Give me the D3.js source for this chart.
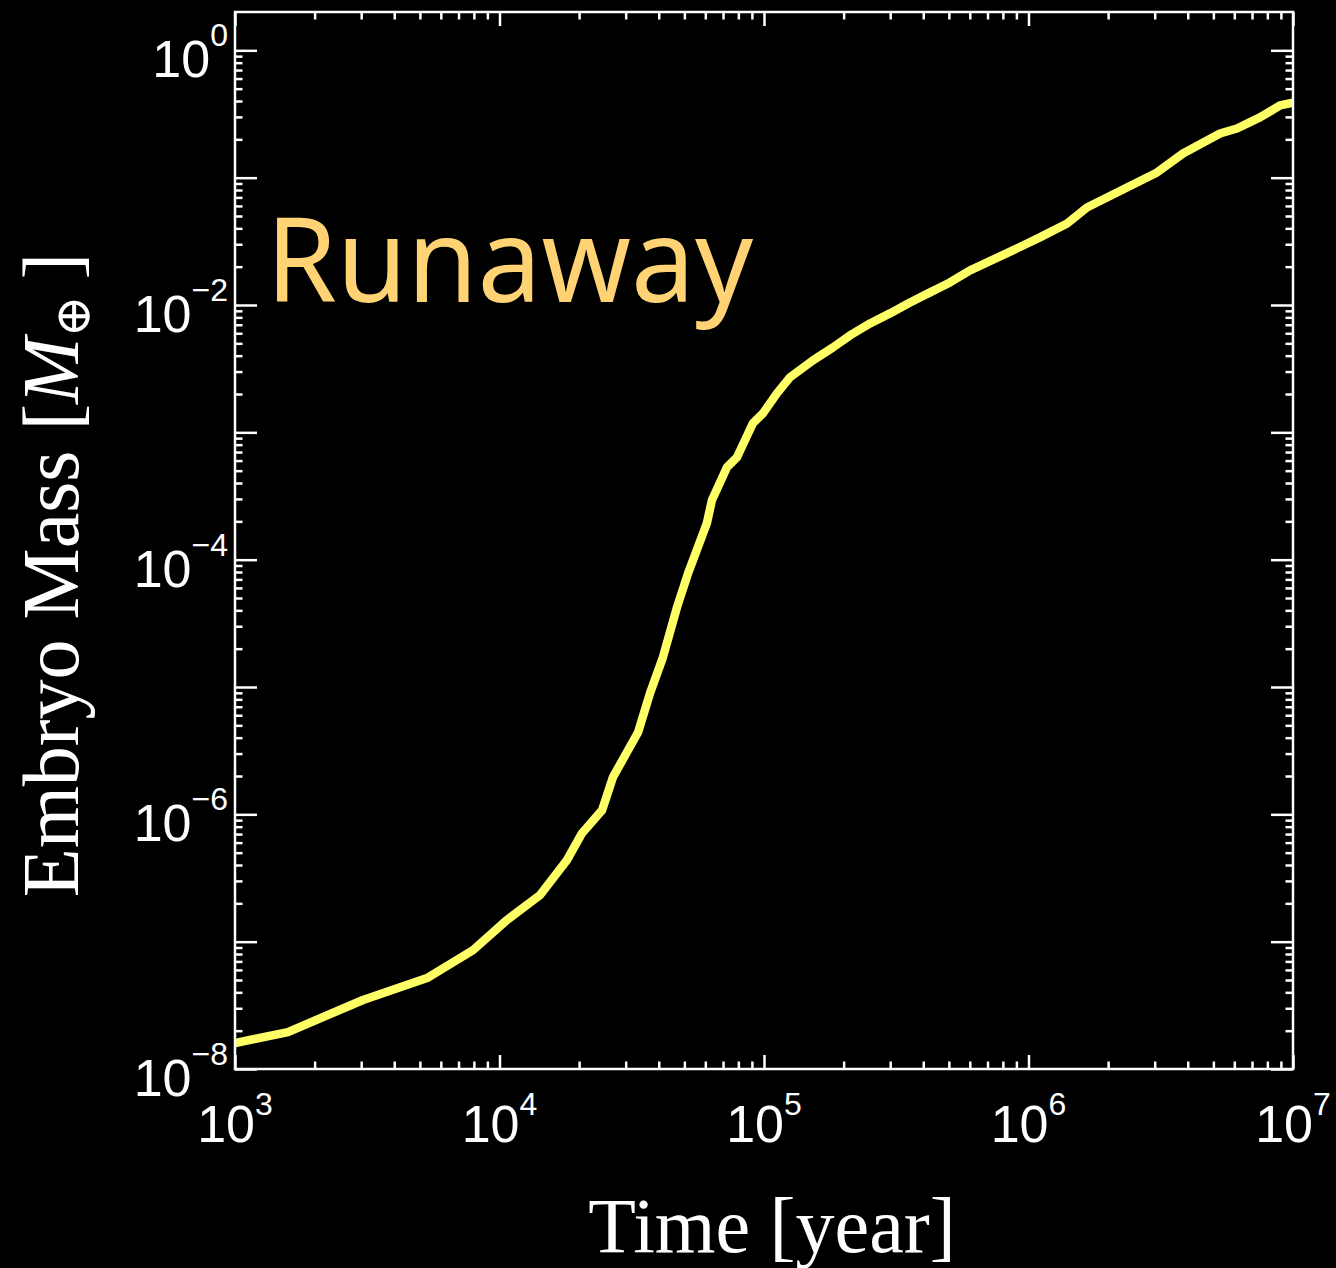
<!DOCTYPE html>
<html>
<head>
<meta charset="utf-8">
<script src="https://cdn.jsdelivr.net/npm/d3@7"></script>
<style>
  html, body { margin: 0; padding: 0; background: #000; }
  svg { display: block; }
</style>
</head>
<body>
<div id="chart"></div>
<script>
// curve, as log10 values
var logTime = [3.000, 3.200, 3.484, 3.726, 3.900, 4.028, 4.153, 4.255, 4.312, 4.388,
  4.429, 4.524, 4.569, 4.618, 4.671, 4.713, 4.784, 4.803, 4.860, 4.898,
  4.958, 4.996, 5.049, 5.098, 5.185, 5.261, 5.325, 5.401, 5.476, 5.552,
  5.628, 5.703, 5.779, 5.941, 6.043, 6.146, 6.221, 6.486, 6.584, 6.724,
  6.788, 6.875, 6.951, 7.000];
var logMass = [-7.796, -7.710, -7.458, -7.286, -7.066, -6.830, -6.634, -6.360, -6.148, -5.967,
  -5.708, -5.355, -5.049, -4.766, -4.374, -4.107, -3.714, -3.534, -3.275, -3.196,
  -2.929, -2.851, -2.694, -2.568, -2.435, -2.333, -2.239, -2.145, -2.066, -1.980,
  -1.901, -1.823, -1.728, -1.571, -1.469, -1.360, -1.234, -0.959, -0.810, -0.653,
  -0.614, -0.527, -0.433, -0.410];

var xLabelExps = [3, 4, 5, 6, 7];
var yLabelExps = [0, -2, -4, -6, -8];
var yMajorExps = [0, -1, -2, -3, -4, -5, -6, -7, -8];
var minorMult = [2, 3, 4, 5, 6, 7, 8, 9];

var W = 1336, H = 1268;
var pLeft = 235, pTop = 12, pRight = 1293, pBottom = 1069;

var svg = d3.select("#chart").append("svg")
    .attr("width", W)
    .attr("height", H)
    .style("background", "#000");

svg.append("rect").attr("width", W).attr("height", H).attr("fill", "#000");

var x = d3.scaleLog().domain([1e3, 1e7]).range([pLeft, pRight]);
var y = d3.scaleLog().domain([1e-8, 2]).range([pBottom, pTop]);

function minorsOf(exps, lo, hi) {
  var out = [];
  exps.forEach(function(e) {
    minorMult.forEach(function(m) {
      var v = m * Math.pow(10, e);
      if (v > lo && v < hi) out.push(v);
    });
  });
  return out;
}

var xMajor = xLabelExps.map(function(e) { return Math.pow(10, e); });
var xMinor = minorsOf([3, 4, 5, 6], 1e3, 1e7);
var yMajor = yMajorExps.map(function(e) { return Math.pow(10, e); });
var yMinor = minorsOf([-8, -7, -6, -5, -4, -3, -2, -1, 0], 1e-8, 2);

function tickAxis(axis, vals, size, tx, ty) {
  var g = svg.append("g")
      .attr("transform", "translate(" + tx + "," + ty + ")")
      .call(axis.tickValues(vals).tickSize(size).tickFormat(""));
  g.select(".domain").remove();
  g.selectAll("line").attr("stroke", "#fff").attr("stroke-width", 2.5);
  return g;
}

// inward ticks on all four sides
tickAxis(d3.axisBottom(x), xMajor, -14, 0, pBottom);
tickAxis(d3.axisBottom(x), xMinor, -7.5, 0, pBottom);
tickAxis(d3.axisTop(x), xMajor, -14, 0, pTop);
tickAxis(d3.axisTop(x), xMinor, -7.5, 0, pTop);
tickAxis(d3.axisLeft(y), yMajor, -22, pLeft, 0);
tickAxis(d3.axisLeft(y), yMinor, -7.5, pLeft, 0);
tickAxis(d3.axisRight(y), yMajor, -22, pRight, 0);
tickAxis(d3.axisRight(y), yMinor, -7.5, pRight, 0);

// the curve
svg.append("clipPath").attr("id", "plotclip")
  .append("rect")
    .attr("x", pLeft).attr("y", pTop)
    .attr("width", pRight - pLeft).attr("height", pBottom - pTop);

var pts = logTime.map(function(t, i) {
  return { t: Math.pow(10, t), m: Math.pow(10, logMass[i]) };
});

var line = d3.line()
    .x(function(d) { return x(d.t); })
    .y(function(d) { return y(d.m); });

svg.append("path")
    .datum(pts)
    .attr("clip-path", "url(#plotclip)")
    .attr("d", line)
    .attr("fill", "none")
    .attr("stroke", "#ffff66")
    .attr("stroke-width", 8.5)
    .attr("stroke-linejoin", "round")
    .attr("stroke-linecap", "butt");

// frame
svg.append("rect")
    .attr("x", pLeft).attr("y", pTop)
    .attr("width", pRight - pLeft).attr("height", pBottom - pTop)
    .attr("fill", "none")
    .attr("stroke", "#fff")
    .attr("stroke-width", 2.5);

// tick labels
var labelFont = "'Liberation Sans', Arial, Helvetica, sans-serif";

xLabelExps.forEach(function(e) {
  var t = svg.append("text")
      .attr("x", x(Math.pow(10, e)))
      .attr("y", pBottom + 73)
      .attr("text-anchor", "middle")
      .attr("fill", "#fff")
      .style("font-family", labelFont)
      .style("font-size", "52px");
  t.append("tspan").text("10");
  t.append("tspan").attr("dy", -27).style("font-size", "32px").text(e);
});

yLabelExps.forEach(function(e) {
  var t = svg.append("text")
      .attr("x", 228)
      .attr("y", y(Math.pow(10, e)) + 27)
      .attr("text-anchor", "end")
      .attr("fill", "#fff")
      .style("font-family", labelFont)
      .style("font-size", "52px");
  t.append("tspan").text("10");
  t.append("tspan").attr("dy", -31).style("font-size", "32px")
      .text(e < 0 ? "\u2212" + (-e) : e);
});

// axis titles
var serif = "'Liberation Serif', 'Times New Roman', 'DejaVu Serif', serif";

svg.append("text")
    .attr("x", 772)
    .attr("y", 1252)
    .attr("text-anchor", "middle")
    .attr("fill", "#fff")
    .style("font-family", serif)
    .style("font-size", "78px")
    .text("Time [year]");

var yt = svg.append("text")
    .attr("transform", "translate(78,575) rotate(-90)")
    .attr("text-anchor", "middle")
    .attr("fill", "#fff")
    .style("font-family", serif)
    .style("font-size", "80px");
yt.append("tspan").text("Embryo Mass [");
yt.append("tspan").style("font-style", "italic").text("M");
yt.append("tspan").attr("dy", 12).style("font-size", "50px").text("\u2295");
yt.append("tspan").attr("dy", -12).text("\u2009]");

// annotation
svg.append("text")
    .attr("x", 266)
    .attr("y", 302)
    .attr("fill", "#ffd373")
    .attr("textLength", 487)
    .attr("lengthAdjust", "spacingAndGlyphs")
    .style("font-family", "'Noto Sans', 'Open Sans', sans-serif")
    .style("font-size", "117px")
    .text("Runaway");
</script>
</body>
</html>
